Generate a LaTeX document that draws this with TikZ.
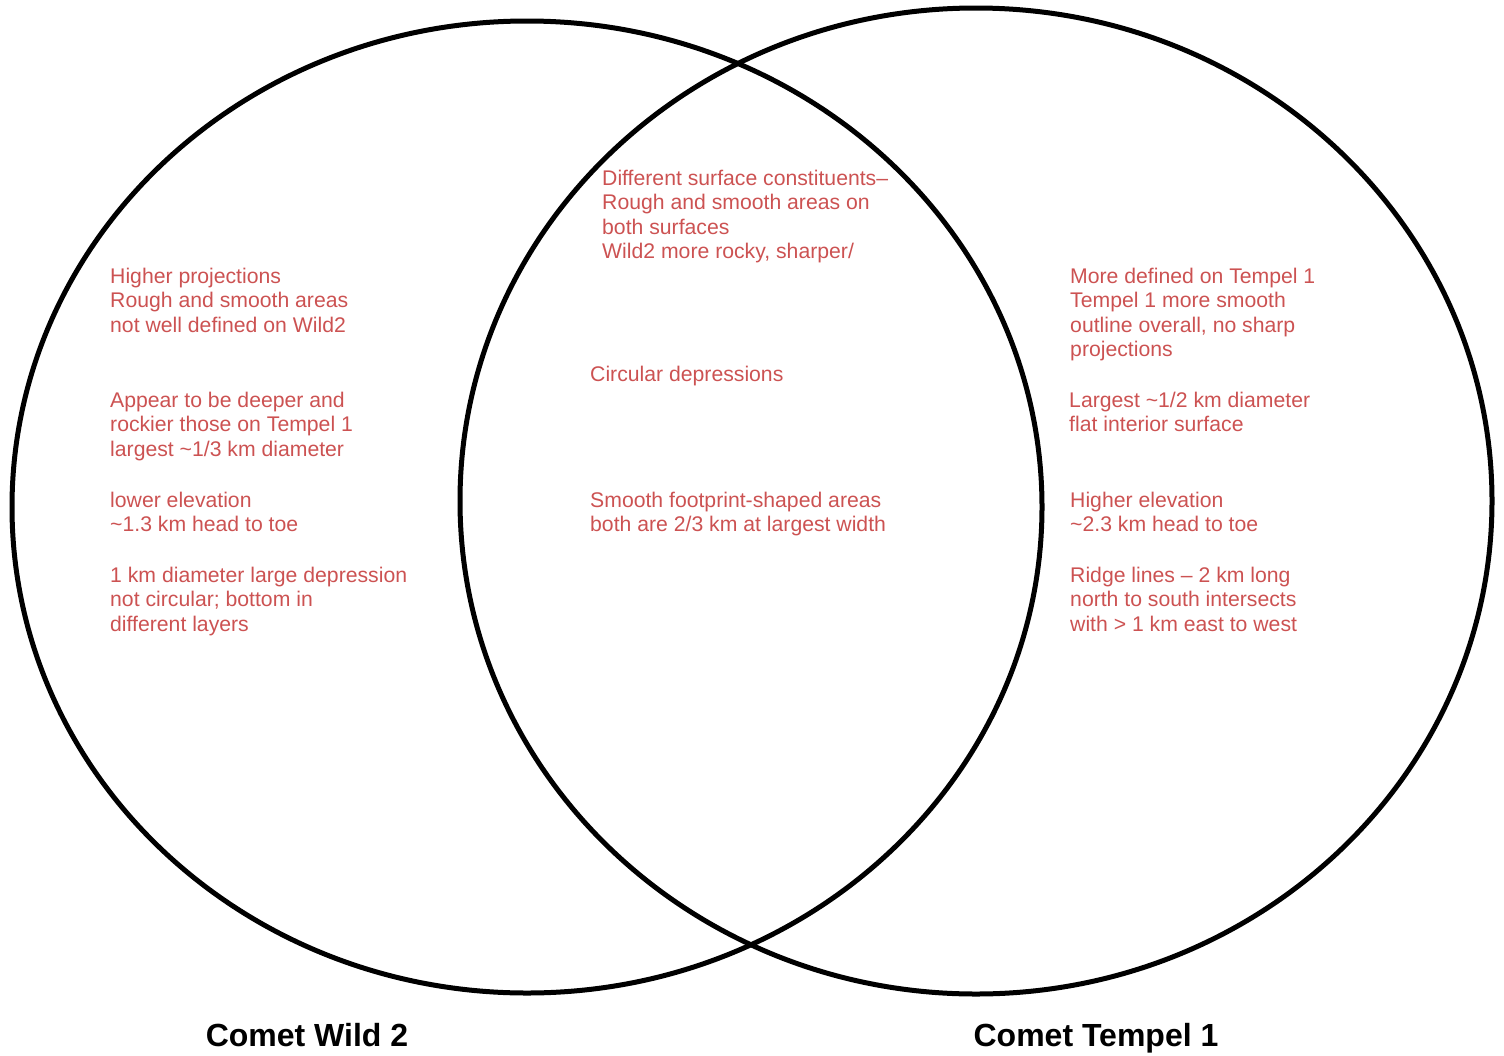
\documentclass[tikz,border=0pt]{standalone}
\usepackage{fontspec}
\setmainfont{Liberation Sans}
\usetikzlibrary{shapes.geometric}
\definecolor{notered}{RGB}{204,82,82}
\tikzset{
  venn/.style={ellipse, draw=black, line width=5pt, inner sep=0pt, outer sep=0pt},
  note/.style={anchor=north west, inner sep=0pt, align=left, text=notered,
    font=\fontsize{21.2}{24.6}\selectfont},
  title/.style={anchor=base, inner sep=0pt, text=black,
    font=\fontsize{32}{36}\selectfont\bfseries}
}
\begin{document}
\begin{tikzpicture}[x=1pt,y=-1pt]
\useasboundingbox (0,0) rectangle (1504,1055);
\node[venn, minimum width=1030pt, minimum height=972pt] (wild) at (527,507) {};
\node[venn, minimum width=1032pt, minimum height=986pt] (tempel) at (976,501) {};

% centre (overlap)
\node[note] (c1) at (602,169.5) {Different surface constituents–\\Rough and smooth areas on\\both surfaces\\Wild2 more rocky, sharper/};
\node[note] (c2) at (590,365.5) {Circular depressions};
\node[note] (c3) at (590,491.5) {Smooth footprint-shaped areas\\both are 2/3 km at largest width};

% left
\node[note] (l1) at (110,267.5) {Higher projections\\Rough and smooth areas\\not well defined on Wild2};
\node[note] (l2) at (110,391.5) {Appear to be deeper and\\rockier those on Tempel 1\\largest \textasciitilde1/3 km diameter};
\node[note] (l3) at (110,491.5) {lower elevation\\\textasciitilde1.3 km head to toe};
\node[note] (l4) at (110,566.5) {1 km diameter large depression\\not circular; bottom in\\different layers};

% right
\node[note] (r1) at (1070,267.5) {More defined on Tempel 1\\Tempel 1 more smooth\\outline overall, no sharp\\projections};
\node[note] (r2) at (1069,391.5) {Largest \textasciitilde1/2 km diameter\\flat interior surface};
\node[note] (r3) at (1070,491.5) {Higher elevation\\\textasciitilde2.3 km head to toe};
\node[note] (r4) at (1070,566.5) {Ridge lines – 2 km long\\north to south intersects\\with > 1 km east to west};

% titles
\node[title] (tw) at (307,1046) {Comet Wild 2};
\node[title] (tt) at (1096,1046) {Comet Tempel 1};
\end{tikzpicture}
\end{document}
